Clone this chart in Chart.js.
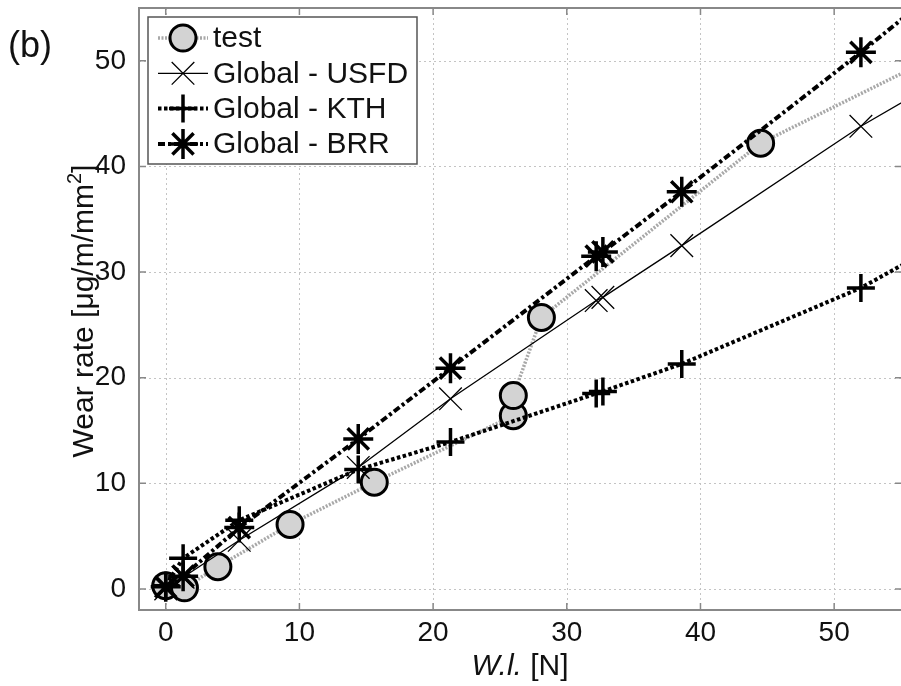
<!DOCTYPE html>
<html>
<head>
<meta charset="utf-8">
<script src="https://cdn.jsdelivr.net/npm/chart.js@4.4.1/dist/chart.umd.min.js"></script>
<style>
  body { margin: 0; background: #fff; }
  canvas { display: block; }
</style>
</head>
<body>
<canvas id="wear" width="901" height="686"></canvas>
<script>
// values (W.I. in N, wear rate in ug/m/mm2)
const xTest = [0, 1.4, 3.9, 9.3, 15.6, 26.0, 26.0, 28.1, 44.5, 60];
const yTest = [0.3, 0.1, 2.1, 6.1, 10.1, 16.4, 18.3, 25.7, 42.2, 51.9];

const xModel = [0, 1.3, 5.5, 14.4, 21.3, 32.2, 32.7, 38.6, 52.0, 60];
const yUSFD = [0, 1.1, 4.6, 11.5, 18.0, 27.3, 27.6, 32.5, 43.8, 49.7];
const yKTH  = [0.3, 2.9, 6.5, 11.3, 13.9, 18.5, 18.7, 21.3, 28.5, 34.1];
const yBRR  = [0.2, 1.2, 5.8, 14.2, 20.9, 31.5, 31.9, 37.6, 50.8, 59.0];

const seriesNames = ["test", "Global - USFD", "Global - KTH", "Global - BRR"];
const xTicks = [0, 10, 20, 30, 40, 50];
const yTicks = [0, 10, 20, 30, 40, 50];

const FONT = '"Liberation Sans", Arial, Helvetica, sans-serif';

function pts(xs, ys) {
  return xs.map((x, i) => ({ x: x, y: ys[i] }));
}

// grid, box, legend and axis titles in the matlab look
const frame = {
  id: "frame",
  beforeDatasetsDraw(chart) {
    const { ctx, chartArea: a, scales: { x, y } } = chart;
    ctx.save();
    ctx.strokeStyle = "#c4c4c4";
    ctx.lineWidth = 1;
    ctx.setLineDash([2, 3]);
    xTicks.forEach(v => {
      const px = Math.round(x.getPixelForValue(v)) + 0.5;
      ctx.beginPath(); ctx.moveTo(px, a.top); ctx.lineTo(px, a.bottom); ctx.stroke();
    });
    yTicks.forEach(v => {
      const py = Math.round(y.getPixelForValue(v)) + 0.5;
      ctx.beginPath(); ctx.moveTo(a.left, py); ctx.lineTo(a.right, py); ctx.stroke();
    });
    ctx.restore();
  },
  afterDraw(chart) {
    const { ctx, chartArea: a, scales: { x, y } } = chart;
    ctx.save();

    // axes box and inward ticks (right side sits just past the canvas)
    ctx.strokeStyle = "#888";
    ctx.lineWidth = 2;
    ctx.strokeRect(a.left, a.top, a.right + 3 - a.left, a.bottom - a.top);
    ctx.lineWidth = 1.5;
    xTicks.forEach(v => {
      const px = x.getPixelForValue(v);
      ctx.beginPath();
      ctx.moveTo(px, a.bottom); ctx.lineTo(px, a.bottom - 7);
      ctx.moveTo(px, a.top); ctx.lineTo(px, a.top + 7);
      ctx.stroke();
    });
    yTicks.forEach(v => {
      const py = y.getPixelForValue(v);
      ctx.beginPath();
      ctx.moveTo(a.left, py); ctx.lineTo(a.left + 7, py);
      ctx.moveTo(a.right + 2, py); ctx.lineTo(a.right - 6, py);
      ctx.stroke();
    });

    // legend
    ctx.fillStyle = "#fff";
    ctx.fillRect(148, 17, 269, 147);
    ctx.strokeStyle = "#555";
    ctx.lineWidth = 1.5;
    ctx.strokeRect(148, 17, 269, 147);
    chart.data.datasets.forEach((ds, i) => {
      const ry = 38 + i * 35.3;
      ctx.strokeStyle = ds.borderColor;
      ctx.lineWidth = ds.borderWidth;
      ctx.setLineDash(ds.borderDash || []);
      ctx.beginPath(); ctx.moveTo(158, ry); ctx.lineTo(208, ry); ctx.stroke();
      ctx.setLineDash([]);
      ctx.fillStyle = ds.pointBackgroundColor;
      ctx.strokeStyle = ds.pointBorderColor;
      ctx.lineWidth = ds.pointBorderWidth;
      Chart.helpers.drawPoint(ctx, {
        pointStyle: ds.pointStyle, radius: ds.pointRadius, rotation: 0, borderWidth: ds.pointBorderWidth
      }, 183, ry);
      ctx.fillStyle = "#111";
      ctx.font = "30px " + FONT;
      ctx.textBaseline = "middle";
      ctx.textAlign = "left";
      ctx.fillText(seriesNames[i], 213, ry + 1);
    });

    ctx.fillStyle = "#111";
    ctx.textBaseline = "alphabetic";

    // x title: W.I. [N]
    ctx.font = "italic 30px " + FONT;
    const wi = ctx.measureText("W.l.").width;
    ctx.font = "30px " + FONT;
    const wn = ctx.measureText(" [N]").width;
    let sx = (a.left + a.right) / 2 - (wi + wn) / 2;
    ctx.font = "italic 30px " + FONT;
    ctx.fillText("W.l.", sx, 675);
    ctx.font = "30px " + FONT;
    ctx.fillText(" [N]", sx + wi, 675);

    // y title with superscript
    ctx.translate(93, 311);
    ctx.rotate(-Math.PI / 2);
    ctx.font = "30px " + FONT;
    const p1 = "Wear rate [\u03bcg/m/mm";
    const w1 = ctx.measureText(p1).width;
    const w3 = ctx.measureText("]").width;
    ctx.font = "20px " + FONT;
    const w2 = ctx.measureText("2").width;
    let tx = -(w1 + w2 + w3) / 2;
    ctx.font = "30px " + FONT;
    ctx.fillText(p1, tx, 0);
    ctx.font = "20px " + FONT;
    ctx.fillText("2", tx + w1, -12);
    ctx.font = "30px " + FONT;
    ctx.fillText("]", tx + w1 + w2, 0);
    ctx.setTransform(1, 0, 0, 1, 0, 0);

    // panel label
    ctx.font = "36px " + FONT;
    ctx.fillText("(b)", 8, 57);

    ctx.restore();
  }
};

new Chart(document.getElementById("wear"), {
  type: "line",
  data: {
    datasets: [
      {
        label: seriesNames[0],
        data: pts(xTest, yTest),
        borderColor: "#a8a8a8",
        borderWidth: 3.5,
        borderDash: [2, 1.5],
        pointStyle: "circle",
        pointRadius: 13,
        pointBackgroundColor: "#d3d3d3",
        pointBorderColor: "#000",
        pointBorderWidth: 3,
        order: 4
      },
      {
        label: seriesNames[1],
        data: pts(xModel, yUSFD),
        borderColor: "#000",
        borderWidth: 1.3,
        pointStyle: "crossRot",
        pointRadius: 16,
        pointBackgroundColor: "#000",
        pointBorderColor: "#000",
        pointBorderWidth: 1.3,
        order: 3
      },
      {
        label: seriesNames[2],
        data: pts(xModel, yKTH),
        borderColor: "#000",
        borderWidth: 4,
        borderDash: [3.5, 2.5],
        pointStyle: "cross",
        pointRadius: 14,
        pointBackgroundColor: "#000",
        pointBorderColor: "#000",
        pointBorderWidth: 3.5,
        order: 2
      },
      {
        label: seriesNames[3],
        data: pts(xModel, yBRR),
        borderColor: "#000",
        borderWidth: 4,
        borderDash: [7, 3, 3, 3],
        pointStyle: "star",
        pointRadius: 15,
        pointBackgroundColor: "#000",
        pointBorderColor: "#000",
        pointBorderWidth: 3.5,
        order: 1
      }
    ]
  },
  options: {
    responsive: false,
    animation: false,
    devicePixelRatio: 1,
    events: [],
    layout: { autoPadding: false, padding: { left: 0, top: 8, right: 0, bottom: 0 } },
    elements: { line: { tension: 0, fill: false } },
    plugins: { legend: { display: false }, tooltip: { enabled: false } },
    scales: {
      x: {
        type: "linear",
        min: -2,
        max: 55,
        grid: { display: false },
        border: { display: false },
        afterFit: s => { s.height = 76; s.paddingLeft = 0; s.paddingRight = 0; },
        afterBuildTicks: s => { s.ticks = xTicks.map(v => ({ value: v })); },
        ticks: { font: { family: FONT, size: 28 }, color: "#111", padding: -2, maxRotation: 0 }
      },
      y: {
        type: "linear",
        min: -2,
        max: 55,
        grid: { display: false },
        border: { display: false },
        afterFit: s => { s.width = 139; s.paddingTop = 0; s.paddingBottom = 0; },
        afterBuildTicks: s => { s.ticks = yTicks.map(v => ({ value: v })); },
        ticks: { font: { family: FONT, size: 28 }, color: "#111", padding: 5 }
      }
    }
  },
  plugins: [frame]
});
</script>
</body>
</html>
